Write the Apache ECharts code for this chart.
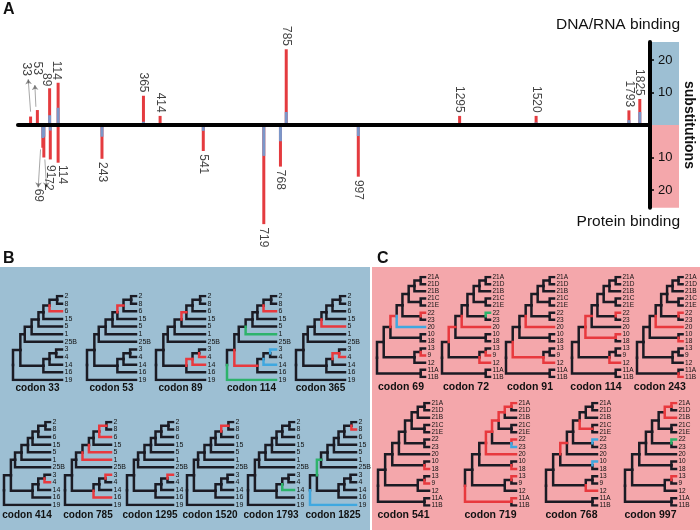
<!DOCTYPE html>
<html><head><meta charset="utf-8">
<script src="https://cdn.jsdelivr.net/npm/echarts@6/dist/echarts.min.js"></script>
<style>html,body{margin:0;padding:0;background:#fff}#c{width:700px;height:530px}</style>
</head><body><div id="c"></div>
<script>
// ---------------- Panel A data (substitutions per codon) ----------------
const upperCodons = [33, 53, 89, 114, 365, 414, 785, 1295, 1520, 1793, 1825];   // DNA/RNA binding
const upperBlue   = [0, 0, 3, 5.3, 1, 0, 4, 0, 0.8, 1.5, 4];
const upperRed    = [2.6, 4.6, 8.3, 7.7, 8, 2.8, 19.3, 2.8, 2, 3, 4];
const lowerCodons = [69, 72, 91, 114, 243, 541, 719, 768, 997];                  // Protein binding
const lowerBlue   = [4, 3.6, 1.7, 0, 3.6, 1.8, 9.5, 5, 3.4];
const lowerRed    = [3, 6.4, 8.9, 11.6, 6.8, 6.2, 21, 7.8, 12.5];
const scaleTicks  = [-20, -10, 10, 20];

// ---------------- Trees ----------------
const bLeaves = ['2','8','6','15','5','1','25B','3','4','14','16','19'];
const bTopology = {R:['N1','19'], N1:['T25','B16'], T25:['T1','25B'], T1:['T5','1'], T5:['T15','5'],
  T15:['T6','15'], T6:['T28','6'], T28:['2','8'], B16:['B14','16'], B14:['B34','14'], B34:['3','4']};
const bDepth = {R:0, N1:0.15, T25:0.24, T1:0.38, T5:0.52, T15:0.62, T6:0.745, T28:0.9, B16:0.62, B14:0.745, B34:0.88};
const bCodons = [33, 53, 89, 114, 365, 414, 785, 1295, 1520, 1793, 1825];
const bColored = {
  33:{'6':'r'}, 53:{T6:'r'}, 89:{T15:'r', B14:'r', '14':'r', '4':'r'},
  114:{'6':'r', '1':'g', '3':'b', '14':'b', B16:'r', '19':'g'},
  365:{'5':'r', B34:'r', '4':'r'}, 414:{'4':'r'},
  785:{T28:'r', '6':'r', '5':'r', '1':'r', '3':'r', '16':'r'},
  1295:{'3':'r'}, 1520:{T28:'r'}, 1793:{'14':'g'}, 1825:{'8':'r', T25:'g', '19':'b'}
};
const cLeaves = ['21A','21D','21B','21C','21E','22','23','20','10','18','13','9','12','11A','11B'];
const cTopology = {R:['A','K'], A:['B','M'], B:['C','L'], C:['D','20'], D:['E','J'], E:['F','I'], F:['G','21B'],
  G:['21A','21D'], I:['21C','21E'], J:['22','23'], L:['10','18'], M:['M1','12'], M1:['13','9'], K:['11A','11B']};
const cDepth = {R:0, A:0.14, B:0.28, C:0.41, D:0.53, E:0.66, F:0.78, G:0.91, I:0.91, J:0.91, L:0.91, M:0.78, M1:0.91, K:0.91};
const cCodons = [69, 72, 91, 114, 243, 541, 719, 768, 997];
const cColored = {
  69:{C:'r', '20':'b', '22':'r', '9':'r'},
  72:{B:'r', '20':'r', '22':'g', '12':'r', '9':'r'},
  91:{'20':'r', M:'r', '12':'r'},
  114:{C:'r', L:'r', '10':'r', '22':'r', '12':'r'},
  243:{'22':'r', '20':'r', '18':'r', '11B':'r'},
  541:{'18':'r', '9':'r'},
  719:{'21A':'r', G:'r', F:'r', E:'r', D:'r', '20':'r', '22':'r', '23':'b', '18':'r', '13':'r', K:'r', '11A':'r'},
  768:{I:'r', C:'r', '12':'r', '22':'b', '10':'b'},
  997:{'21A':'r', G:'r', '21B':'r', '13':'r', '22':'g'}
};

// ---------------- layout / style ----------------
const FONT = '"Liberation Sans", Arial, sans-serif';
const RED = '#e43b3f', BLUE = '#7b97c9';
const BG_B = '#9dbfd3', BG_C = '#f4a7ab';
const DARK = '#1b1b24';
const PAL = {r:'#e8393e', g:'#2db36b', b:'#3fa8e0'};
const labelShift = {
  up:   {33:[21, 15.1], 53:[52, 15.4], 89:[79, 11.9], 114:[109.5, 13.9]},
  down: {69:[57, -19.6], 72:[86, -16.1], 91:[91, -12.3], 114:[126, -12.3]}
};
const arrowPaths = [[[33,4.1],[26,14.1]], [[48.6,5.6],[45.6,12.3]], [[62.4,-7.5],[55.4,-19.2]], [[75,-10.6],[80,-19.2]]];
const treeRows = [
  {kind:'B', codons:bCodons.slice(0,5), lefts:[13,87,156,227,296], width:49, top:296, height:84, gap:3, font:10},
  {kind:'B', codons:bCodons.slice(5),   lefts:[4,65,127,187,248,310], width:46, top:422, height:83, gap:5, font:10},
  {kind:'C', codons:cCodons.slice(0,5), lefts:[377,442,506,572,637], width:48, top:277, height:100, gap:5, font:10.5},
  {kind:'C', codons:cCodons.slice(5),   lefts:[378,465,546,625], width:51, top:403, height:102.5, gap:4.5, font:10.5}
];

function treeEdges(topo, depth, leaves, colorMap) {
  const pos = {};
  leaves.forEach((l, i) => pos[l] = {x: 1, y: i});
  function place(n) {
    if (pos[n]) return pos[n];
    const ch = topo[n].map(place);
    pos[n] = {x: depth[n], y: (ch[0].y + ch[ch.length - 1].y) / 2};
    return pos[n];
  }
  place('R');
  const edges = [];
  Object.keys(topo).forEach(p => topo[p].forEach(c => {
    edges.push({c: colorMap[c], coords: [[pos[p].x, pos[p].y], [pos[p].x, pos[c].y], [pos[c].x, pos[c].y]]});
  }));
  edges.sort((a, b) => (a.c ? 1 : 0) - (b.c ? 1 : 0));
  return edges.map(e => ({coords: e.coords, lineStyle: {color: e.c ? PAL[e.c] : DARK}}));
}

const grid = [], xAxis = [], yAxis = [], series = [];
// Panel A main grid
grid.push({left:18, width:632, top:27.5, height:201.5});
xAxis.push({type:'value', gridIndex:0, min:-4, max:1855, z:5,
  axisLine:{onZero:true, lineStyle:{color:'#000', width:4}}, axisTick:{show:false}, axisLabel:{show:false}, splitLine:{show:false}});
yAxis.push({type:'value', gridIndex:0, min:-32, max:30, show:false});
// Panel A scale box
grid.push({left:650, width:29, top:42.1, height:165.75});
xAxis.push({type:'value', gridIndex:1, min:0, max:1, show:false});
yAxis.push({type:'value', gridIndex:1, min:-25.5, max:25.5, position:'left', z:5,
  axisLine:{show:true, lineStyle:{color:'#000', width:4}},
  axisTick:{show:true, inside:true, length:4, lineStyle:{color:'#000', width:1.5}, customValues:scaleTicks},
  axisLabel:{inside:true, customValues:scaleTicks, formatter:v => String(Math.abs(v)), fontSize:13, margin:8, color:'#111', fontFamily:FONT},
  splitLine:{show:false}});
yAxis.push({type:'value', gridIndex:1, min:-25.5, max:25.5, position:'right', name:'substitutions', nameLocation:'middle',
  nameRotate:-90, nameGap:3, nameTextStyle:{fontWeight:'bold', fontSize:14, color:'#111', fontFamily:FONT},
  axisLine:{show:false}, axisTick:{show:false}, axisLabel:{show:false}, splitLine:{show:false}});

series.push({type:'line', xAxisIndex:1, yAxisIndex:1, data:[[0,0]], symbol:'none', lineStyle:{width:0}, silent:true,
  markArea:{silent:true, data:[[{yAxis:0, itemStyle:{color:BG_B}}, {yAxis:25.5}], [{yAxis:-25.5, itemStyle:{color:BG_C}}, {yAxis:0}]]}});

// bars: total (red) then blue part over it
const barBase = {type:'bar', xAxisIndex:0, yAxisIndex:0, barWidth:3, barGap:'-100%', silent:true};
series.push(Object.assign({}, barBase, {data: upperCodons.map((c,i) => [c, upperBlue[i] + upperRed[i]]), itemStyle:{color:RED}}));
series.push(Object.assign({}, barBase, {data: lowerCodons.map((c,i) => [c, -(lowerBlue[i] + lowerRed[i])]), itemStyle:{color:RED}}));
series.push(Object.assign({}, barBase, {data: upperCodons.map((c,i) => [c, upperBlue[i]]), itemStyle:{color:BLUE}}));
series.push(Object.assign({}, barBase, {data: lowerCodons.map((c,i) => [c, -lowerBlue[i]]), itemStyle:{color:BLUE}}));

// codon labels
const labelData = [];
upperCodons.forEach((c,i) => {
  const p = labelShift.up[c] || [c, upperBlue[i] + upperRed[i] + 1];
  labelData.push({value:p, name:String(c), label:{align:'right'}});
});
lowerCodons.forEach((c,i) => {
  const p = labelShift.down[c] || [c, -(lowerBlue[i] + lowerRed[i] + 1)];
  labelData.push({value:p, name:String(c), label:{align:'left'}});
});
series.push({type:'scatter', xAxisIndex:0, yAxisIndex:0, symbolSize:1, itemStyle:{color:'rgba(0,0,0,0)'}, silent:true,
  label:{show:true, formatter:'{b}', rotate:-90, position:'inside', verticalAlign:'middle', fontSize:12, color:'#111', fontFamily:FONT},
  data:labelData});
series.push({type:'lines', coordinateSystem:'cartesian2d', xAxisIndex:0, yAxisIndex:0, silent:true,
  symbol:['none','arrow'], symbolSize:[0,5], lineStyle:{color:'#222', width:0.8},
  data: arrowPaths.map(p => ({coords:p}))});

// trees
treeRows.forEach(row => {
  row.codons.forEach((codon, j) => {
    const B = row.kind === 'B';
    const leaves = B ? bLeaves : cLeaves;
    const gi = grid.length;
    grid.push({left:row.lefts[j], width:row.width, top:row.top, height:row.height});
    xAxis.push({type:'value', gridIndex:gi, min:0, max:1, name:'codon ' + codon, nameLocation:'middle', nameGap:row.gap,
      nameTextStyle:{fontWeight:'bold', fontSize:row.font, color:'#111', fontFamily:FONT, verticalAlign:'top'},
      axisLine:{show:false}, axisTick:{show:false}, axisLabel:{show:false}, splitLine:{show:false}});
    const yi = yAxis.length;
    yAxis.push({type:'value', gridIndex:gi, inverse:true, min:0, max:leaves.length - 1, interval:1, position:'right',
      axisLine:{show:false}, axisTick:{show:false}, splitLine:{show:false},
      axisLabel:{formatter:v => leaves[v] || '', fontSize:B ? 7 : 6.5, margin:2.5, color:'#111', fontFamily:FONT}});
    series.push({type:'lines', coordinateSystem:'cartesian2d', polyline:true, xAxisIndex:gi, yAxisIndex:yi, silent:true,
      lineStyle:{width:2.5, cap:'square', join:'miter', opacity:1},
      data: treeEdges(B ? bTopology : cTopology, B ? bDepth : cDepth, leaves, (B ? bColored : cColored)[codon])});
  });
});

const chart = echarts.init(document.getElementById('c'));
chart.setOption({
  animation:false,
  textStyle:{fontFamily:FONT},
  title:[
    {text:'A', left:3, top:2, padding:0, textStyle:{fontSize:16, fontWeight:'bold', color:'#111', fontFamily:FONT}},
    {text:'B', left:3, top:251, padding:0, textStyle:{fontSize:16, fontWeight:'bold', color:'#111', fontFamily:FONT}},
    {text:'C', left:377, top:251, padding:0, textStyle:{fontSize:16, fontWeight:'bold', color:'#111', fontFamily:FONT}},
    {text:'DNA/RNA binding', right:20, top:17, padding:0, textStyle:{fontSize:15.5, fontWeight:'normal', color:'#111', fontFamily:FONT}},
    {text:'Protein binding', right:20, top:214, padding:0, textStyle:{fontSize:15.5, fontWeight:'normal', color:'#111', fontFamily:FONT}}
  ],
  graphic:[
    {type:'rect', left:0, top:267, shape:{width:370, height:263}, style:{fill:BG_B}, z:-10, silent:true},
    {type:'rect', left:372, top:267, shape:{width:328, height:263}, style:{fill:BG_C}, z:-10, silent:true}
  ],
  grid, xAxis, yAxis, series
});
</script></body></html>
